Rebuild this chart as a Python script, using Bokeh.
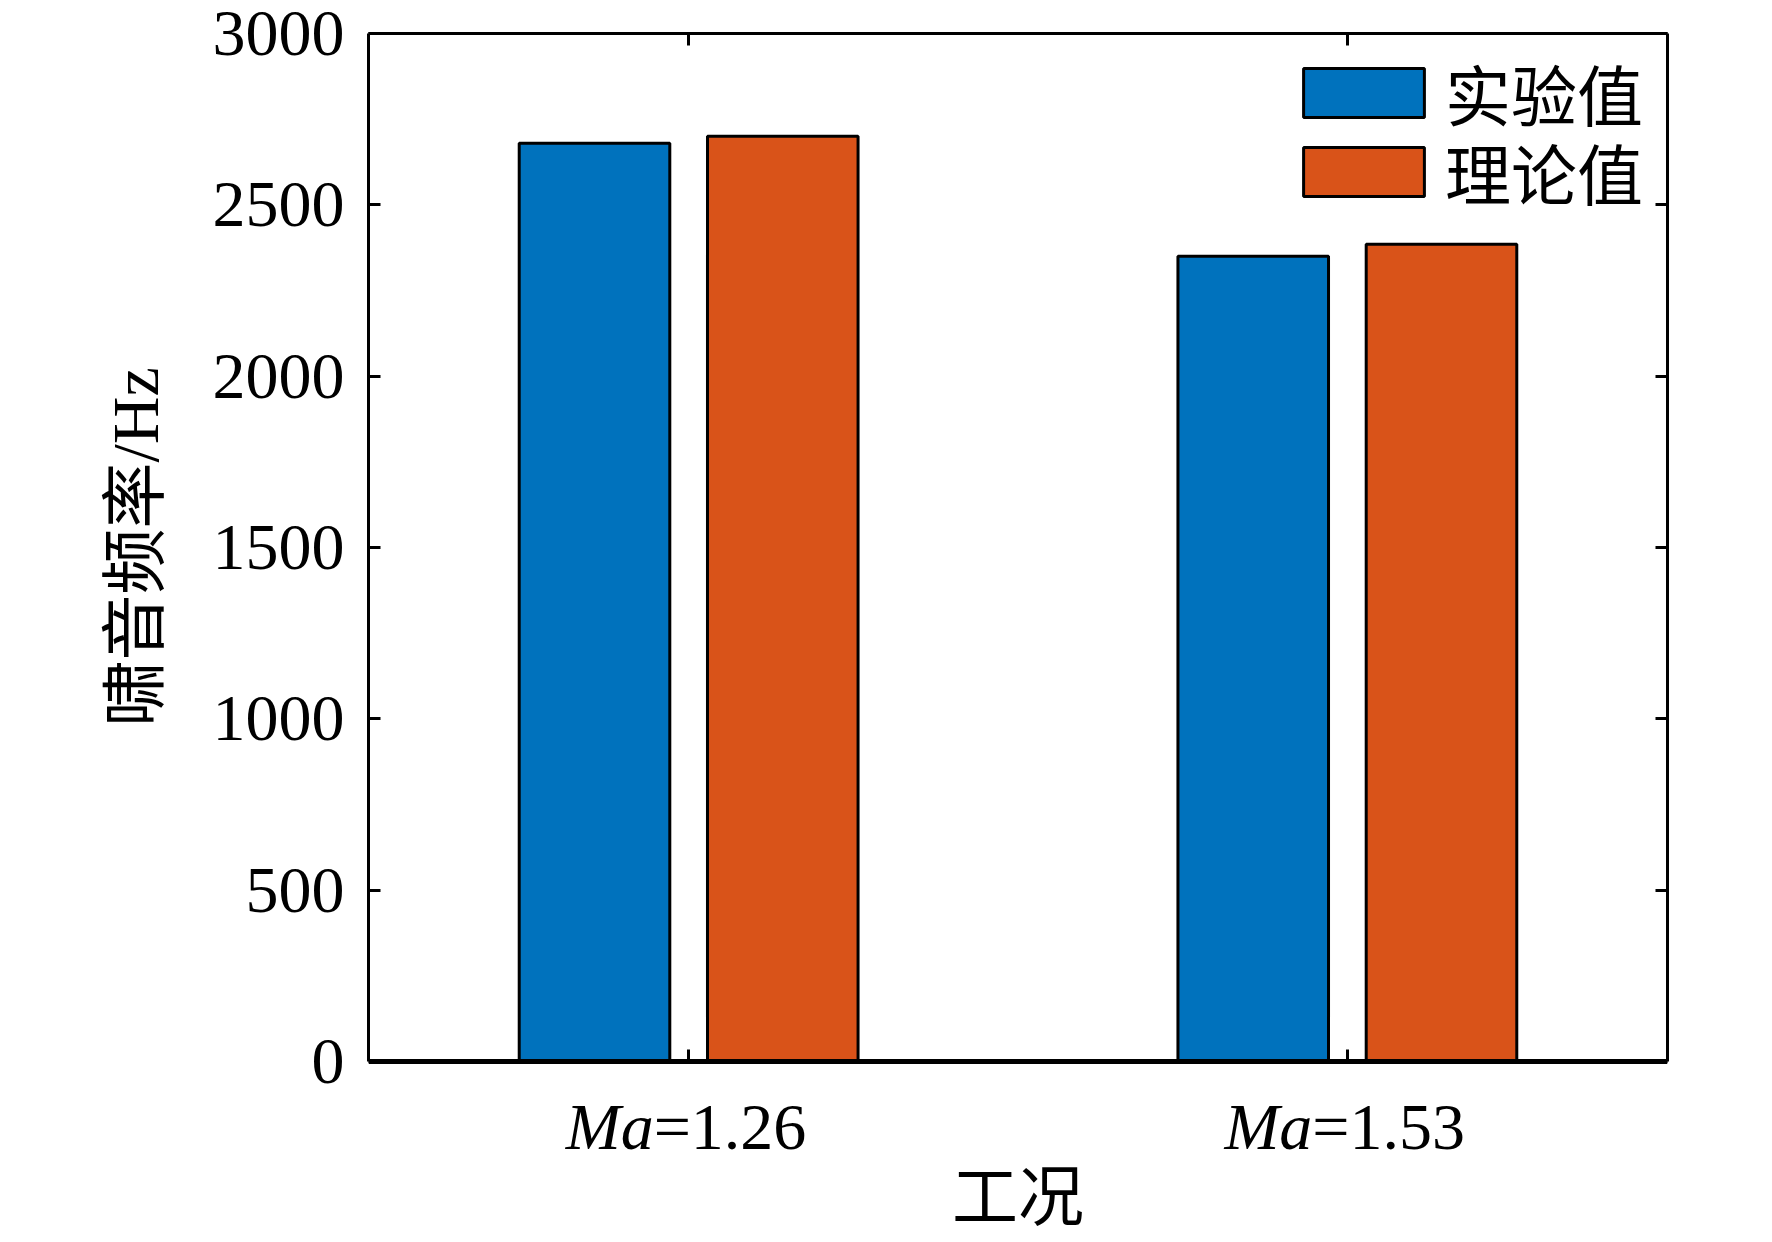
from bokeh.plotting import figure
from bokeh.models import (LinearAxis, FixedTicker, Range1d, ColumnDataSource,
                          CustomJSTickFormatter, Label, Legend, LegendItem, Title)
from bokeh.transform import dodge
from bokeh.embed import file_html
from bokeh.resources import INLINE

# ---- data ----
mach = ["1.26", "1.53"]
exp_vals = [2680, 2350]        # 实验值
theory_vals = [2700, 2385]     # 理论值
y_ticks = [0, 500, 1000, 1500, 2000, 2500, 3000]
series_names = ["实验值", "理论值"]
colors = ["#0072BD", "#D95319"]
x_title = "工况"
y_title = "啸音频率/Hz"

xs = list(range(1, len(mach) + 1))
src = ColumnDataSource(dict(x=xs, exp=exp_vals, theory=theory_vals))

SERIF = "Liberation Serif, Noto Sans CJK SC"
FS = "66px"
Y_MAX = 3000
Y_LO = -283   # frame extends below 0 to hold the x tick labels
X_LO, X_HI = 0.514, 2.486

p = figure(width=1772, height=1242, output_backend="svg", toolbar_location=None,
           x_range=Range1d(X_LO, X_HI), y_range=Range1d(Y_LO, Y_MAX),
           x_axis_location=None, y_axis_location=None,
           min_border_left=368, min_border_right=105, min_border_top=33,
           min_border_bottom=84, background_fill_color="white",
           border_fill_color="white")
p.grid.visible = False
p.outline_line_color = None

bw = 0.2286
off = 0.1429
r_exp = p.vbar(x=dodge("x", -off), top="exp", width=bw, source=src,
               fill_color=colors[0], line_color="black", line_width=3)
r_th = p.vbar(x=dodge("x", off), top="theory", width=bw, source=src,
              fill_color=colors[1], line_color="black", line_width=3)

blank = CustomJSTickFormatter(code="return ''")


def style_axis(ax, hide_labels=False):
    ax.axis_line_color = "black"
    ax.axis_line_width = 3
    ax.major_tick_line_color = "black"
    ax.major_tick_line_width = 3
    ax.major_tick_in = 12
    ax.major_tick_out = 0
    ax.minor_tick_line_color = None
    ax.major_label_text_font = SERIF
    ax.major_label_text_color = "black"
    if hide_labels:
        ax.formatter = blank
        ax.major_label_text_font_size = "2px"
        ax.major_label_standoff = 0
    else:
        ax.major_label_text_font_size = FS
    ax.axis_label_text_font = SERIF
    ax.axis_label_text_font_size = FS
    ax.axis_label_text_font_style = "normal"
    ax.axis_label_text_color = "black"


left = LinearAxis(ticker=FixedTicker(ticks=y_ticks), bounds=(0, Y_MAX))
style_axis(left)
left.major_label_standoff = 24
left.major_label_text_line_height = 1.0
p.add_layout(left, "left")

# y-axis title, placed along the 0..3000 part of the frame
ylab = Title(text=y_title, align="left", vertical_align="bottom", offset=432,
             standoff=76, text_font=SERIF, text_font_size=FS,
             text_font_style="normal", text_color="black")
p.add_layout(ylab, "left")

right = LinearAxis(ticker=FixedTicker(ticks=y_ticks), bounds=(0, Y_MAX))
style_axis(right, hide_labels=True)
p.add_layout(right, "right")

top = LinearAxis(ticker=FixedTicker(ticks=xs))
style_axis(top, hide_labels=True)
p.add_layout(top, "above")

# axis carrying only the x-axis title, at the frame bottom
title_ax = LinearAxis(ticker=FixedTicker(ticks=xs), axis_label=x_title)
style_axis(title_ax, hide_labels=True)
title_ax.axis_line_color = None
title_ax.major_tick_line_color = None
title_ax.axis_label_standoff = 2
p.add_layout(title_ax, "below")

# base line at y = 0 with inward ticks
base_ax = LinearAxis(ticker=FixedTicker(ticks=xs), fixed_location=0)
style_axis(base_ax, hide_labels=True)
base_ax.axis_line_width = 5
p.add_layout(base_ax, "below")

# x tick labels: italic "Ma" + "=value"
for xv, m in zip(xs, mach):
    p.add_layout(Label(x=xv, y=0, x_offset=-35, y_offset=-65, text="Ma",
                       text_font=SERIF, text_font_size=FS, text_font_style="italic",
                       text_align="right", text_baseline="alphabetic", text_color="black"))
    p.add_layout(Label(x=xv, y=0, x_offset=-35, y_offset=-65, text="=" + m,
                       text_font=SERIF, text_font_size=FS,
                       text_align="left", text_baseline="alphabetic", text_color="black"))

# legend: one entry per legend so the row pitch can match the reference
for rend, name, loc in [(r_exp, series_names[0], (920, 1018)),
                        (r_th, series_names[1], (920, 939))]:
    lg = Legend(items=[LegendItem(label=name, renderers=[rend])], location=loc,
                background_fill_alpha=0, border_line_color=None,
                glyph_width=151, glyph_height=61, label_standoff=6,
                padding=0, margin=0, label_text_font=SERIF,
                label_text_font_size=FS, label_text_color="black")
    p.add_layout(lg)

open("out.html", "w").write(file_html(p, INLINE))
